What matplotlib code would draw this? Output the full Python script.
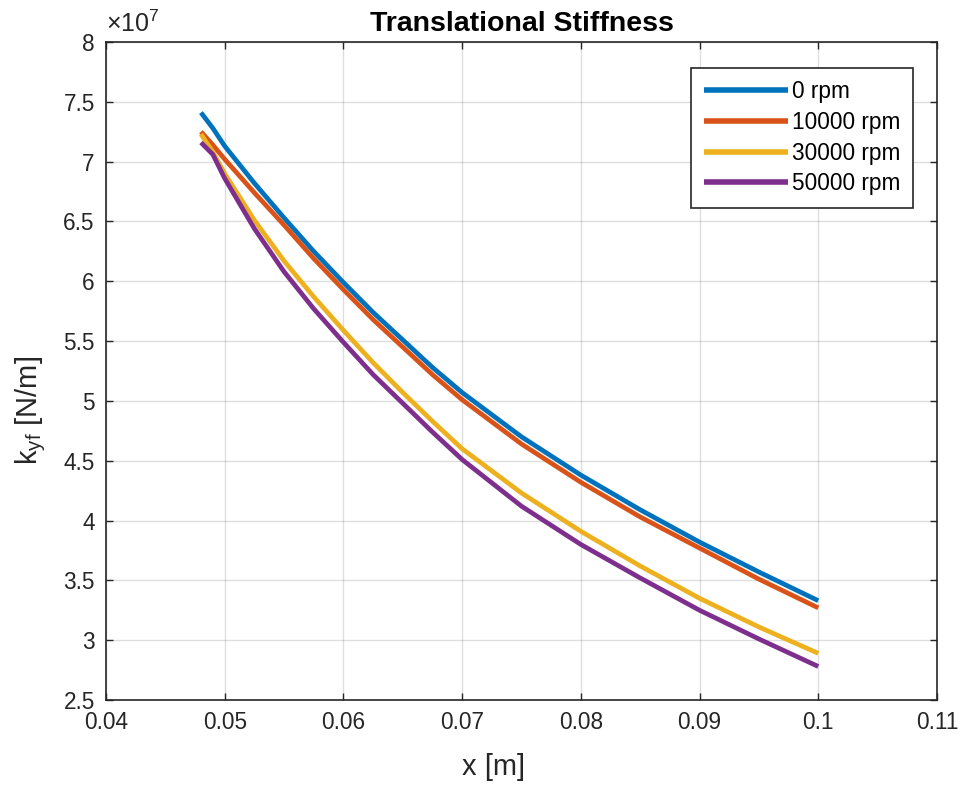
import matplotlib
matplotlib.use("Agg")
import matplotlib.pyplot as plt
from matplotlib.ticker import FuncFormatter, MultipleLocator

plt.rcParams['font.family'] = ['Liberation Sans', 'DejaVu Sans']
plt.rcParams['mathtext.fontset'] = 'custom'
plt.rcParams['mathtext.rm'] = 'Liberation Sans'
plt.rcParams['mathtext.it'] = 'Liberation Sans'

SCALE = 1e7

# axial position along the shaft [m]
x_pos = [0.048, 0.049, 0.050, 0.0525, 0.055, 0.0575, 0.060, 0.0625, 0.065, 0.0675,
         0.070, 0.075, 0.080, 0.085, 0.090, 0.095, 0.100]

# translational stiffness k_yf [x 1e7 N/m]
k_0rpm = [7.41, 7.28, 7.13, 6.82, 6.53, 6.25, 5.99, 5.74, 5.51, 5.28,
          5.07, 4.70, 4.38, 4.09, 3.82, 3.57, 3.33]
k_10000rpm = [7.25, 7.14, 7.02, 6.74, 6.47, 6.19, 5.93, 5.68, 5.45, 5.22,
              5.01, 4.64, 4.32, 4.03, 3.77, 3.51, 3.27]
k_30000rpm = [7.23, 7.08, 6.90, 6.51, 6.17, 5.87, 5.59, 5.32, 5.07, 4.83,
              4.60, 4.23, 3.91, 3.62, 3.35, 3.11, 2.89]
k_50000rpm = [7.16, 7.06, 6.86, 6.44, 6.08, 5.77, 5.49, 5.22, 4.98, 4.74,
              4.51, 4.12, 3.80, 3.52, 3.25, 3.01, 2.78]

labels = ['0 rpm', '10000 rpm', '30000 rpm', '50000 rpm']
colors = ['#0072BD', '#D95319', '#EDB120', '#7E2F8E']
series = [k_0rpm, k_10000rpm, k_30000rpm, k_50000rpm]

fig = plt.figure(figsize=(9.6, 7.85), dpi=100)
ax = fig.add_axes([0.1104, 0.1083, 0.8656, 0.8382])

for ks, lab, col in zip(series, labels, colors):
    ax.plot(x_pos, [k * SCALE for k in ks], color=col, lw=3.4, label=lab,
            solid_capstyle='butt', solid_joinstyle='round')

ax.set_xlim(0.04, 0.11)
ax.set_ylim(2.5 * SCALE, 8 * SCALE)
ax.xaxis.set_major_locator(MultipleLocator(0.01))
ax.yaxis.set_major_locator(MultipleLocator(0.5 * SCALE))
ax.xaxis.set_major_formatter(FuncFormatter(lambda v, p: f"{v:g}"))
ax.yaxis.set_major_formatter(FuncFormatter(lambda v, p: f"{round(v / SCALE, 2):g}"))

ax.grid(True, color='#262626', alpha=0.15, lw=1.0)
ax.set_axisbelow(True)
for s in ax.spines.values():
    s.set_color('#262626')
    s.set_linewidth(1.2)
ax.tick_params(direction='in', length=5, width=1, colors='#262626',
               labelcolor='#262626', labelsize=16.3, top=True, right=True, pad=8)

ax.text(0.0, 1.008, r'$\times$10$^{7}$', transform=ax.transAxes, fontsize=18,
        color='#262626', ha='left', va='bottom')

ax.set_title('Translational Stiffness', fontsize=20.5, fontweight='bold', pad=8)
ax.set_xlabel('x [m]', fontsize=21, color='#262626')
ax.set_ylabel(r'k$_{\mathregular{yf}}$ [N/m]', fontsize=21, color='#262626')
ax.xaxis.set_label_coords(0.467, -0.08)
ax.yaxis.set_label_coords(-0.07, 0.44)

leg = ax.legend(loc='upper right', bbox_to_anchor=(0.9711, 0.961), fontsize=16.3,
                handlelength=3.7, handletextpad=0.2, borderpad=0.55,
                labelspacing=0.34, fancybox=False, framealpha=1, borderaxespad=0)
leg.get_frame().set_edgecolor('#262626')
leg.get_frame().set_linewidth(1.2)
for h in leg.get_lines():
    h.set_linewidth(4)

fig.savefig('out.png', dpi=100)
